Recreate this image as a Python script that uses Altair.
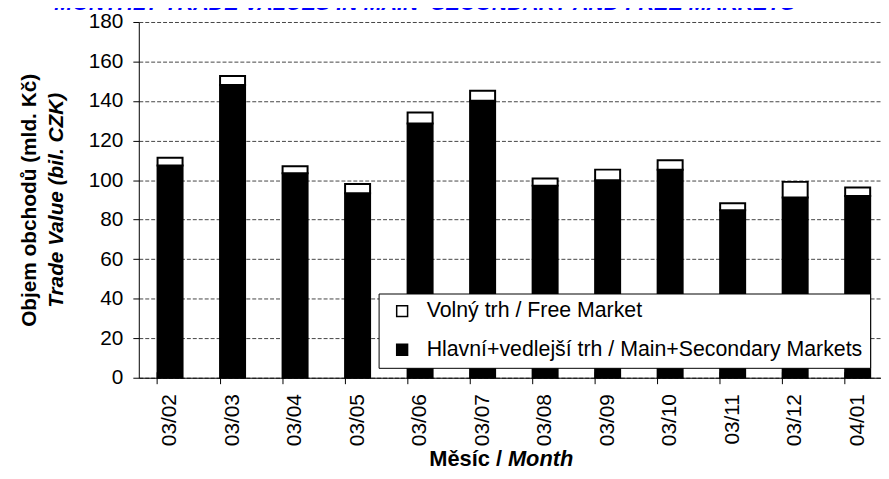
import altair as alt
import pandas as pd

months = ["03/02", "03/03", "03/04", "03/05", "03/06", "03/07",
          "03/08", "03/09", "03/10", "03/11", "03/12", "04/01"]
main_values = [107.4, 148.1, 103.5, 93.3, 128.6, 140.1, 97.2, 99.9, 105.2, 84.7, 91.2, 92.0]
free_values = [3.9, 4.6, 3.5, 4.7, 5.6, 5.1, 3.6, 5.4, 4.9, 3.6, 7.9, 4.3]
series_names = ["Volný trh / Free Market", "Hlavní+vedlejší trh / Main+Secondary Markets"]
series_colors = ["#ffffff", "#000000"]
y_ticks = [0, 20, 40, 60, 80, 100, 120, 140, 160, 180]

rows = []
for m, mv, fv in zip(months, main_values, free_values):
    rows.append({"month": m, "segment": series_names[1], "value": mv, "ord": 0})
    rows.append({"month": m, "segment": series_names[0], "value": fv, "ord": 1})
df = pd.DataFrame(rows)

FONT = "Liberation Sans"

xscale = alt.Scale(range=[0, 757], paddingInner=0.6, paddingOuter=0.3)
yscale = alt.Scale(domain=[0, 180], nice=False, zero=True)

bars = alt.Chart(df).mark_bar(stroke="black", strokeWidth=2).encode(
    x=alt.X("month:N", sort=months, scale=xscale,
            axis=alt.Axis(orient="bottom", domain=True, domainColor="black", domainWidth=1,
                          ticks=False, tickSize=0, labelAngle=270, labelAlign="right",
                          labelBaseline="middle", labelPadding=16, labelFontSize=21,
                          labelColor="black", grid=False,
                          title="Měsíc /", titleFontSize=22, titleFontWeight="bold",
                          titleAlign="right", titleX=366, titleY=89, titleBaseline="alphabetic",
                          titleColor="black")),
    y=alt.Y("value:Q", stack="zero", scale=yscale,
            axis=alt.Axis(orient="left", values=y_ticks, domain=True, domainColor="black",
                          domainWidth=1, ticks=True, tickSize=6, tickColor="black",
                          labelFontSize=21, labelColor="black", labelPadding=10,
                          grid=True, gridDash=[4, 2], gridColor="#444444", gridWidth=1,
                          title="Trade Value (bil. CZK)", titleFontSize=21,
                          titleFontWeight="bold", titleFontStyle="italic",
                          titleX=-77, titleBaseline="alphabetic", titleAngle=270,
                          titleColor="black")),
    color=alt.Color("segment:N",
                    scale=alt.Scale(domain=series_names, range=series_colors),
                    legend=alt.Legend(orient="none", legendX=242, legendY=274,
                                      direction="vertical", title=None,
                                      fillColor="white", strokeColor="black",
                                      padding=7, rowPadding=16,
                                      symbolType="square", symbolSize=121,
                                      symbolStrokeColor="black", symbolStrokeWidth=1.5,
                                      symbolOffset=6, labelOffset=14,
                                      labelFontSize=21.5, labelColor="black",
                                      labelLimit=0)),
    order=alt.Order("ord:Q"),
)

guides = alt.Chart(df).mark_bar(opacity=0).encode(
    x=alt.X("month:N", sort=months,
            axis=alt.Axis(orient="bottom", offset=-6, domain=False, labels=False,
                          ticks=True, tickSize=12, tickColor="black", tickWidth=1,
                          bandPosition=0, grid=False,
                          title="Month", titleFontSize=22, titleFontWeight="bold",
                          titleFontStyle="italic", titleAlign="left", titleX=372,
                          titleY=95, titleBaseline="alphabetic", titleColor="black")),
    y=alt.Y("value:Q", stack="zero",
            axis=alt.Axis(orient="left", domain=False, labels=False, ticks=False,
                          grid=False, title="Objem obchodů (mld. Kč)", titleFontSize=21,
                          titleFontWeight="bold", titleX=-104, titleBaseline="alphabetic",
                          titleAngle=270, titleColor="black")),
    order=alt.Order("ord:Q"),
)

chart = alt.layer(bars, guides).resolve_axis(x="independent", y="independent").properties(
    width=749,
    height=359,
    autosize=alt.AutoSizeParams(type="none"),
    padding={"left": 132, "top": 12, "right": 0, "bottom": 92},
    title=alt.Title("MONTHLY TRADE VALUES IN MAIN+SECONDARY AND FREE MARKETS",
                    fontSize=21.7, font=FONT, fontWeight="bold", fontStyle="italic",
                    color="#0000ff", anchor="middle", dx=-86, baseline="alphabetic",
                    offset=0, dy=21),
).configure(font=FONT).configure_view(stroke=None).configure_axis(
    labelFont=FONT, titleFont=FONT
).configure_legend(labelFont=FONT)

chart.save("out.html", embed_options={"renderer": "svg", "actions": False})
